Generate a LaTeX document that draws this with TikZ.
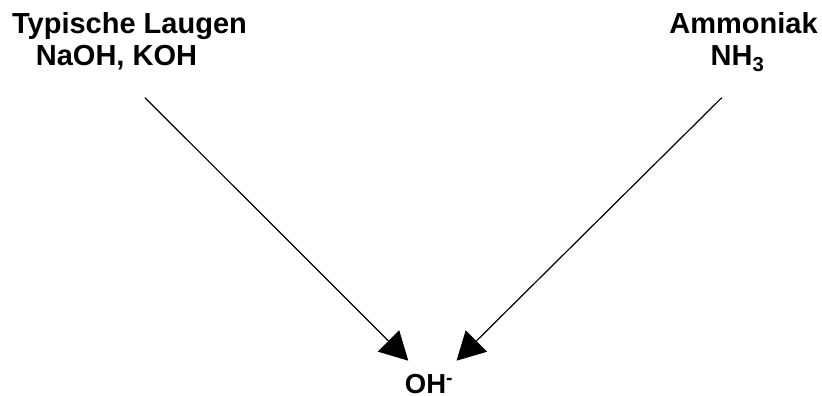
\documentclass[tikz,border=0pt]{standalone}
\usepackage{fontspec}
\setmainfont{Liberation Sans}
\usetikzlibrary{arrows.meta}
\tikzset{
  lbl/.style={anchor=base, inner sep=0pt, font=\bfseries\fontsize{29}{33}\selectfont},
  reaction/.style={line width=1.2pt, -{Triangle[length=28pt,width=30pt]}}
}
\begin{document}
\begin{tikzpicture}[x=1pt,y=-1pt]
  \useasboundingbox (0,0) rectangle (822,396);
  % source substances
  \node[lbl] (laugen)    at (129.5,33.5) {Typische Laugen};
  \node[lbl] (laugenf)   at (116.5,65.5) {NaOH, KOH};
  \node[lbl] (ammoniak)  at (743.5,34) {Ammoniak};
  \node[lbl] (ammoniakf) at (737.5,66) {NH\textsubscript{3}};
  % product
  \node[lbl, font=\bfseries\fontsize{27.5}{32}\selectfont] (oh) at (429,393.3) {OH\textsuperscript{-}};
  % arrow end points
  \coordinate (s1) at (145,97.7);
  \coordinate (t1) at (408.3,360.7);
  \coordinate (s2) at (721.7,97.7);
  \coordinate (t2) at (456.5,360.7);
  \draw[reaction] (s1) -- (t1);
  \draw[reaction] (s2) -- (t2);
\end{tikzpicture}
\end{document}
